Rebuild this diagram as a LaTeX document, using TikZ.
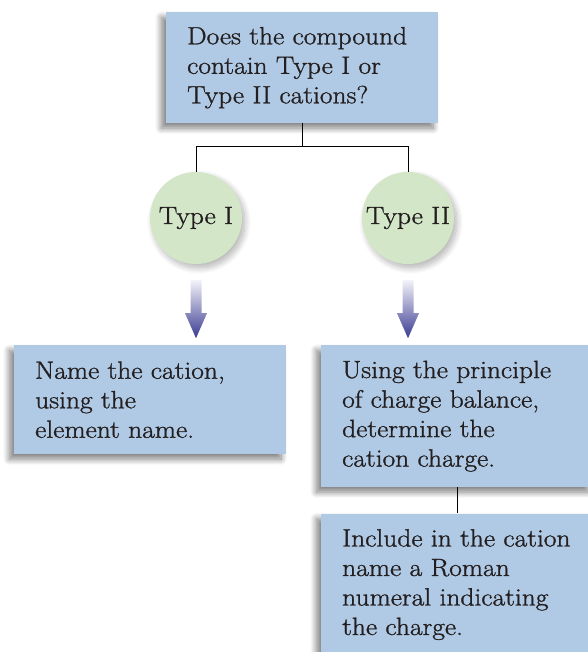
\documentclass[tikz,border=0pt]{standalone}
\usepackage{fontspec}
\setmainfont{Latin Modern Roman}[FakeStretch=1.1, FakeBold=1.2]
\usetikzlibrary{positioning,calc,shadows.blur}

\definecolor{boxblue}{HTML}{B0CAE5}
\definecolor{typegreen}{HTML}{D3E6C8}
\definecolor{inkblack}{HTML}{231F20}
\definecolor{arrowtop}{HTML}{F2F2F9}
\definecolor{arrowblue}{HTML}{3A3A92}

\tikzset{
  stepbox/.style={rectangle, fill=boxblue, text width=230pt, inner xsep=21pt,
    inner ysep=0pt, align=left, anchor=north west,
    blur shadow={shadow xshift=-5pt, shadow yshift=-5pt, shadow blur radius=6pt,
      shadow blur steps=12, shadow opacity=50}},
  typecircle/.style={circle, fill=typegreen, minimum size=92pt, inner sep=0pt,
    blur shadow={shadow xshift=3pt, shadow yshift=-4pt, shadow blur radius=6pt,
      shadow blur steps=12, shadow opacity=30}},
  link/.style={draw=black, line width=1pt},
  fatarrow/.pic={
    \shade[top color=arrowtop, bottom color=arrowblue]
      (-5.5,0) -- (5.5,0) -- (5.5,-33) -- (11,-33) -- (0,-58)
      -- (-11,-33) -- (-5.5,-33) -- cycle;
  }
}

\begin{document}
\begin{tikzpicture}[x=1pt, y=1pt,
    every node/.style={font=\fontsize{25}{29.5}\selectfont, text=inkblack}]
  \useasboundingbox (0,0) rectangle (587,-652);

  \node[stepbox, minimum height=111pt] (question) at (166,-12)
    {Does the compound\\ contain Type I or\\ Type II cations?};

  \node[typecircle] (typeone) at (196,-218) {Type I};
  \node[typecircle] (typetwo) at (408,-218) {Type II};

  \coordinate (split) at ($(question.south)+(0,-23)$);
  \draw[link] (question.south) -- (split);
  \draw[link] (typeone.north) |- (split) -| (typetwo.north);

  \pic at ($(typeone.south)+(0,-16)$) {fatarrow};
  \pic at ($(typetwo.south)+(0,-16)$) {fatarrow};

  \node[stepbox, minimum height=109pt] (nameit) at (14,-345)
    {Name the cation,\\ using the\\ element name.};
  \node[stepbox, minimum height=142pt] (balance) at (321,-345)
    {Using the principle\\ of charge balance,\\ determine the\\ cation charge.};
  \node[stepbox, minimum height=142pt, below=26pt of balance] (roman)
    {Include in the cation\\ name a Roman\\ numeral indicating\\ the charge.};

  \draw[link] (balance.south -| 457,0) -- (roman.north -| 457,0);
\end{tikzpicture}
\end{document}
